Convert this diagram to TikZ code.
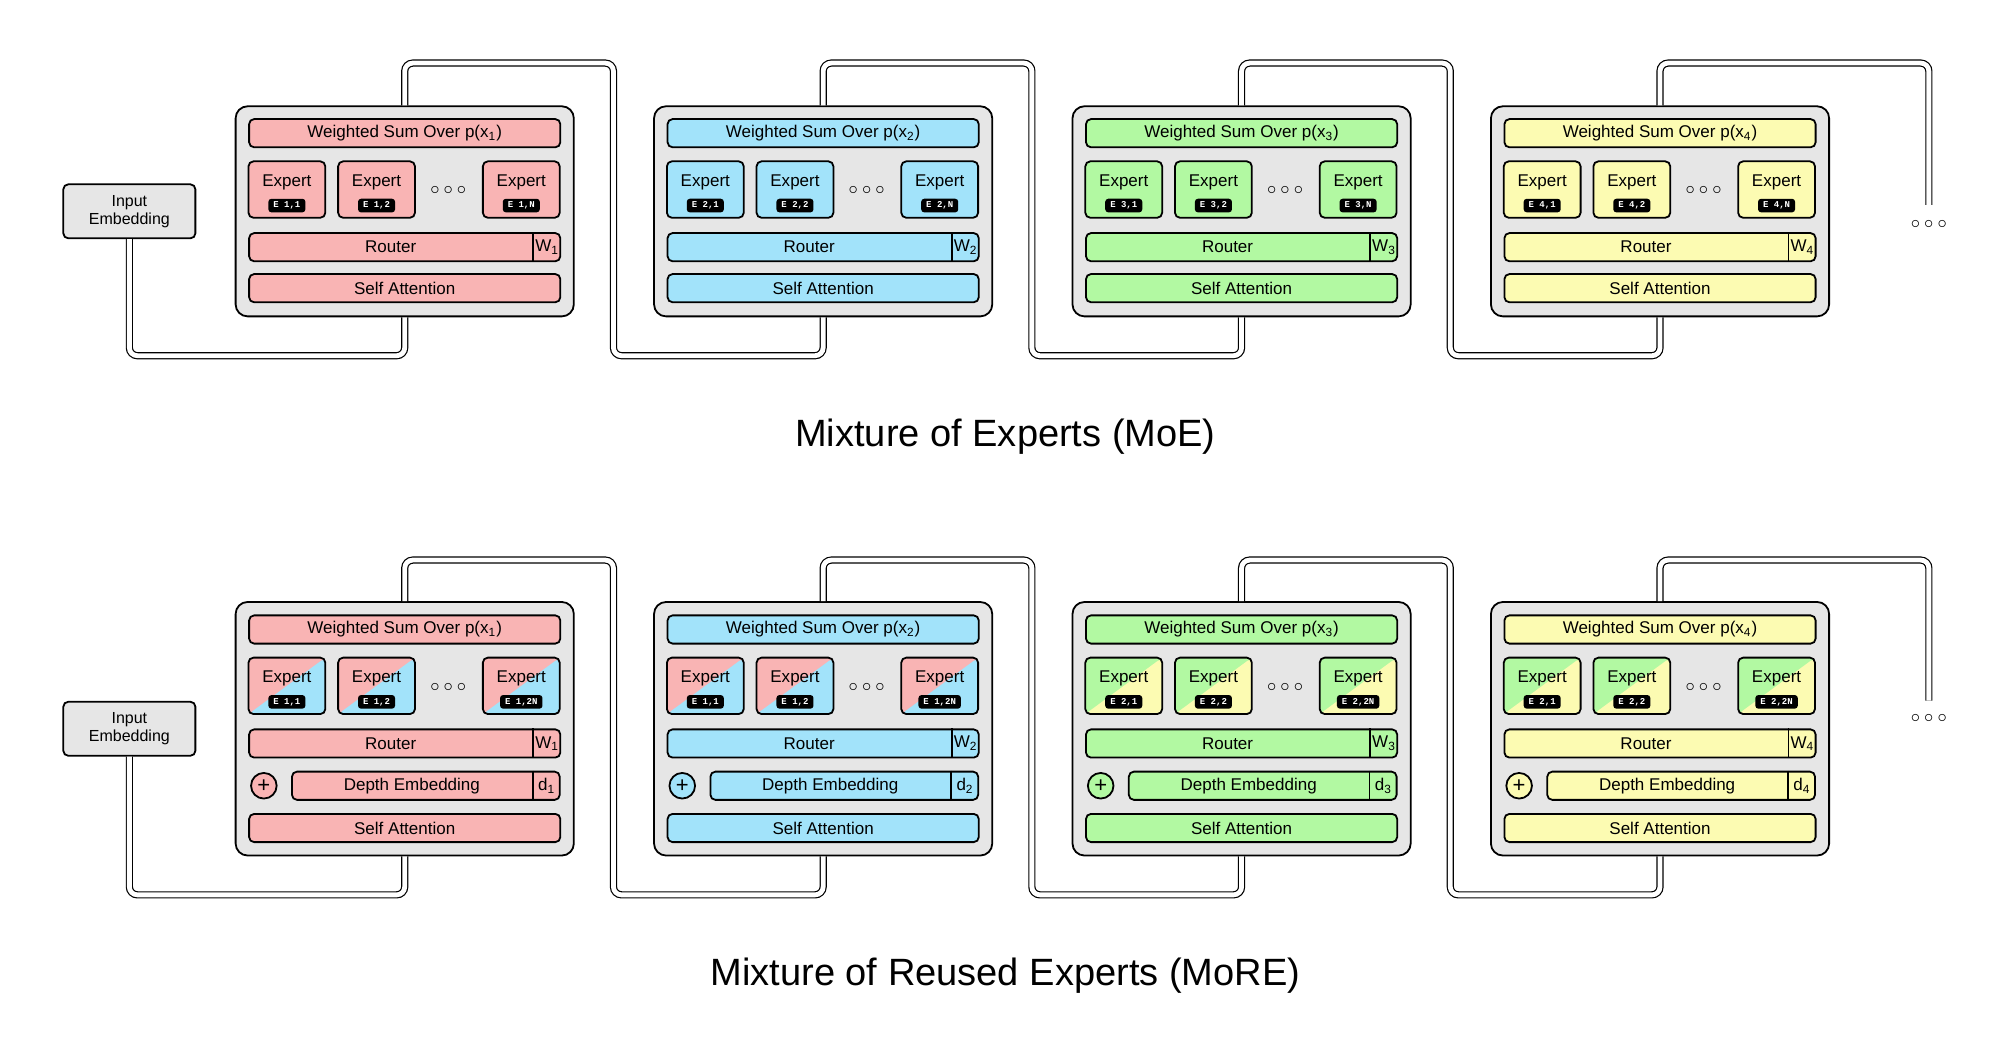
\documentclass[tikz,border=0pt]{standalone}
\usepackage{fontspec}
\setmainfont{Liberation Sans}
\newfontfamily\tagfont{Liberation Mono}
\usetikzlibrary{calc,positioning}
\definecolor{cred}{HTML}{F9B4B4}
\definecolor{cblue}{HTML}{A2E3FA}
\definecolor{cgreen}{HTML}{B2F9A2}
\definecolor{cyellow}{HTML}{FCFBB2}
\definecolor{cgray}{HTML}{E6E6E6}

\begin{document}
\begin{tikzpicture}
		[x=0.64pt, y=-0.64pt,
		every node/.style={font=\fontsize{8.5}{10}\selectfont, inner sep=0pt},
		layer/.style={draw=black, line width=0.9pt, rounded corners=6pt, fill=cgray, minimum width=169pt},
		bar/.style={draw=black, line width=0.9pt, rounded corners=2.5pt, minimum width=155.5pt, minimum height=14.1pt},
		expert/.style={draw=black, line width=0.9pt, rounded corners=2.5pt, minimum width=38.4pt, minimum height=28.2pt, text depth=9pt},
		split/.style 2 args={expert, fill=#1, path picture={\fill[#2] (path picture bounding box.south west) -- (path picture bounding box.north east) -- (path picture bounding box.south east) -- cycle;}},
		etag/.style={fill=black, text=white, rounded corners=1.5pt, font=\tagfont\bfseries\fontsize{4.5}{5}\selectfont, inner xsep=2.5pt, inner ysep=1.5pt},
		plus/.style={draw=black, line width=0.9pt, circle, minimum size=12.8pt, font=\fontsize{11}{11}\selectfont},
		inbox/.style={draw=black, line width=0.9pt, rounded corners=2.5pt, fill=cgray, minimum width=66pt, minimum height=27pt, align=center, font=\fontsize{8}{9}\selectfont},
		wire/.style={draw=black, line width=0.6pt, double=white, double distance=2.4pt, rounded corners=4pt},
		dots/.style={font=\fontsize{9}{9}\selectfont},
		title/.style={font=\fontsize{19}{22}\selectfont},
		]
		\useasboundingbox (0,0) rectangle (1560,822);

		% Mixture of Experts
		\node[inbox] (in1) at (101,165) {Input\\Embedding};
		\foreach \i/\c in {1/cred,2/cblue,3/cgreen,4/cyellow} {
			\pgfmathsetmacro{\bx}{316+326.7*(\i-1)}
			\node[layer, minimum height=105pt] (a\i) at (\bx,165) {};
			\node[bar, fill=\c] (aw\i) at (\bx,104) {Weighted Sum Over p(x\textsubscript{\i})};
			\node[expert, fill=\c] (ae\i a) at (\bx-92,148) {Expert};
			\node[expert, fill=\c] (ae\i b) at (\bx-22,148) {Expert};
			\node[dots] (ad\i) at (\bx+34,149) {$\circ\circ\circ$};
			\node[expert, fill=\c] (ae\i c) at (\bx+91,148) {Expert};
			\node[etag] at ([yshift=-8pt]ae\i a.center) {E \i,1};
			\node[etag] at ([yshift=-8pt]ae\i b.center) {E \i,2};
			\node[etag] at ([yshift=-8pt]ae\i c.center) {E \i,N};
			\node[bar, fill=\c] (ar\i) at (\bx,193) {\hspace{-14pt}Router};
			\draw[line width=0.9pt] ([xshift=-14pt]ar\i.north east) -- ([xshift=-14pt]ar\i.south east);
			\node at ([xshift=-7pt]ar\i.east) {W\textsubscript{\i}};
			\node[bar, fill=\c] (as\i) at (\bx,225) {Self Attention};
		}
		\draw[wire] (in1.south) |- ($(a1.south)+(0,30)$) -- (a1.south);
		\draw[wire] (a1.north) -- ++(0,-33) -| ($(a2.south west)+(-31,30)$) -| (a2.south);
		\draw[wire] (a2.north) -- ++(0,-33) -| ($(a3.south west)+(-31,30)$) -| (a3.south);
		\draw[wire] (a3.north) -- ++(0,-33) -| ($(a4.south west)+(-31,30)$) -| (a4.south);
		\coordinate (aend) at (1506,160);
		\draw[wire] (a4.north) -- ++(0,-33) -| (aend);
		\node[dots] (amore) at (1506,175) {$\circ\circ\circ$};
		\node[title] (atitle) at (785,341) {Mixture of Experts (MoE)};

		% Mixture of Reused Experts
		\node[inbox] (in2) at (101,569) {Input\\Embedding};
		\foreach \i/\c/\ca/\cb/\k in {1/cred/cred/cblue/1,2/cblue/cred/cblue/1,3/cgreen/cgreen/cyellow/2,4/cyellow/cgreen/cyellow/2} {
			\pgfmathsetmacro{\bx}{316+326.7*(\i-1)}
			\node[layer, minimum height=126.7pt] (b\i) at (\bx,569) {};
			\node[bar, fill=\c] (bw\i) at (\bx,491.5) {Weighted Sum Over p(x\textsubscript{\i})};
			\node[split={\ca}{\cb}] (be\i a) at (\bx-92,535.5) {Expert};
			\node[split={\ca}{\cb}] (be\i b) at (\bx-22,535.5) {Expert};
			\node[dots] (bd\i) at (\bx+34,536.5) {$\circ\circ\circ$};
			\node[split={\ca}{\cb}] (be\i c) at (\bx+91,535.5) {Expert};
			\node[etag] at ([yshift=-8pt]be\i a.center) {E \k,1};
			\node[etag] at ([yshift=-8pt]be\i b.center) {E \k,2};
			\node[etag] at ([yshift=-8pt]be\i c.center) {E \k,2N};
			\node[bar, fill=\c] (br\i) at (\bx,580.5) {\hspace{-14pt}Router};
			\draw[line width=0.9pt] ([xshift=-14pt]br\i.north east) -- ([xshift=-14pt]br\i.south east);
			\node at ([xshift=-7pt]br\i.east) {W\textsubscript{\i}};
			\node[plus, fill=\c] (bp\i) at (\bx-110,613.5) {+};
			\node[bar, fill=\c, minimum width=133.8pt] (bde\i) at (\bx+16.5,613.5) {\hspace{-14pt}Depth Embedding};
			\draw[line width=0.9pt] ([xshift=-14pt]bde\i.north east) -- ([xshift=-14pt]bde\i.south east);
			\node at ([xshift=-7pt]bde\i.east) {d\textsubscript{\i}};
			\node[bar, fill=\c] (bs\i) at (\bx,646.5) {Self Attention};
		}
		\draw[wire] (in2.south) |- ($(b1.south)+(0,30)$) -- (b1.south);
		\draw[wire] (b1.north) -- ++(0,-32) -| ($(b2.south west)+(-31,30)$) -| (b2.south);
		\draw[wire] (b2.north) -- ++(0,-32) -| ($(b3.south west)+(-31,30)$) -| (b3.south);
		\draw[wire] (b3.north) -- ++(0,-32) -| ($(b4.south west)+(-31,30)$) -| (b4.south);
		\coordinate (bend) at (1506,547);
		\draw[wire] (b4.north) -- ++(0,-32) -| (bend);
		\node[dots] (bmore) at (1506,561) {$\circ\circ\circ$};
		\node[title] (btitle) at (785,762) {Mixture of Reused Experts (MoRE)};
	\end{tikzpicture}
\end{document}
